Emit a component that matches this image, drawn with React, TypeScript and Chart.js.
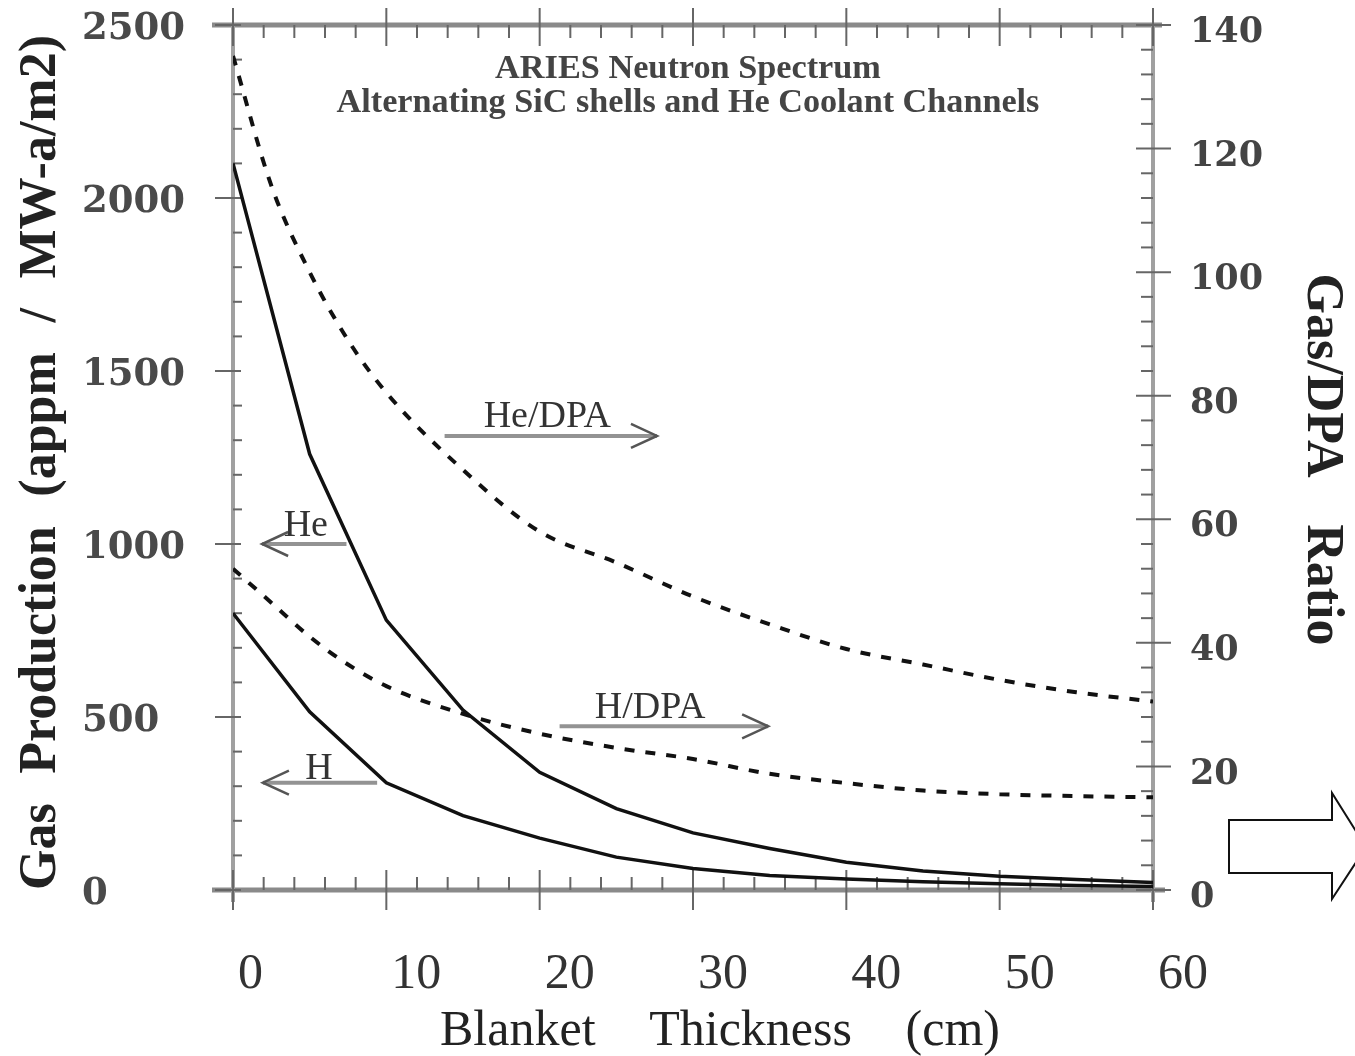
import React, { useEffect, useRef } from "react";
import { Chart, registerables } from "chart.js";

Chart.register(...registerables);

// ---- data ----
const PROD_X = [0, 5, 10, 15, 20, 25, 30, 35, 40, 45, 50, 55, 60];
const HE_PROD = [2100, 1260, 780, 520, 340, 235, 165, 120, 80, 55, 40, 30, 22];
const H_PROD = [800, 515, 310, 215, 150, 95, 62, 42, 32, 24, 18, 13, 10];

const RATIO_X = [0, 2.5, 5, 7.5, 10, 15, 20, 25, 30, 35, 40, 45, 50, 55, 60];
const HE_DPA = [135, 114, 100, 89, 80.5, 68, 58, 53, 47.5, 43, 39, 36.5, 34, 32, 30.5];
const H_DPA = [52, 46.5, 41, 36.5, 33, 28.5, 25.3, 23, 21.2, 18.8, 17.3, 16.1, 15.5, 15.2, 15];

const X_TICKS = [0, 10, 20, 30, 40, 50, 60];
const LEFT_TICKS = [0, 500, 1000, 1500, 2000, 2500];
const RIGHT_TICKS = [0, 20, 40, 60, 80, 100, 120, 140];

const X_MINOR = 2;
const LEFT_MINOR = 100;
const RIGHT_MINOR = 4;

const TITLE_LINES = ["ARIES Neutron Spectrum", "Alternating SiC shells and He Coolant Channels"];
const X_TITLE = ["Blanket", "Thickness", "(cm)"];
const LEFT_TITLE = ["Gas", "Production", "(appm", "/", "MW-a/m2)"];
const RIGHT_TITLE = ["Gas/DPA", "Ratio"];

const ANNOTATIONS = [
  { text: "He/DPA", axis: "y1", from: 13.8, to: 27.65, at: 73.5, labelAt: 20.5, lift: 9 },
  { text: "H/DPA", axis: "y1", from: 21.3, to: 34.9, at: 26.5, labelAt: 27.2, lift: 8 },
  { text: "He", axis: "y", from: 7.4, to: 1.9, at: 1000, labelAt: 4.75, lift: 8 },
  { text: "H", axis: "y", from: 9.4, to: 1.95, at: 310, labelAt: 5.6, lift: 4 },
];

const pts = (xs: number[], ys: number[]) => xs.map((x, i) => ({ x, y: ys[i] }));

function seg(ctx: CanvasRenderingContext2D, x1: number, y1: number, x2: number, y2: number) {
  ctx.beginPath();
  ctx.moveTo(x1, y1);
  ctx.lineTo(x2, y2);
  ctx.stroke();
}

function spreadWords(
  ctx: CanvasRenderingContext2D,
  words: string[],
  cx: number,
  baseY: number,
  target: number,
  font: string,
  angle: number
) {
  ctx.save();
  ctx.translate(cx, baseY);
  ctx.rotate(angle);
  ctx.font = font;
  ctx.textAlign = "left";
  ctx.textBaseline = "alphabetic";
  const widths = words.map((w) => ctx.measureText(w).width);
  const sum = widths.reduce((a, b) => a + b, 0);
  const gap = words.length > 1 ? (target - sum) / (words.length - 1) : 0;
  let x = words.length > 1 ? -target / 2 : -sum / 2;
  words.forEach((w, i) => {
    ctx.fillText(w, x, 0);
    x += widths[i] + gap;
  });
  ctx.restore();
}

function fitText(
  ctx: CanvasRenderingContext2D,
  text: string,
  cx: number,
  baseY: number,
  target: number,
  weight: string,
  family: string
) {
  ctx.font = `${weight} 100px ${family}`;
  const w = ctx.measureText(text).width;
  const size = (100 * target) / w;
  ctx.font = `${weight} ${size}px ${family}`;
  ctx.textAlign = "center";
  ctx.textBaseline = "alphabetic";
  ctx.fillText(text, cx, baseY);
}

const noPad = (s: any) => {
  s.paddingTop = 0;
  s.paddingBottom = 0;
  s.paddingLeft = 0;
  s.paddingRight = 0;
};

const decorPlugin = {
  id: "decor",
  beforeDatasetsDraw(chart: any) {
    const { ctx, chartArea: a, scales } = chart;
    const xs = scales.x;
    const yl = scales.y;
    const yr = scales.y1;
    ctx.save();
    ctx.lineCap = "butt";
    // frame lines
    ctx.strokeStyle = "#8a8a8a";
    ctx.lineWidth = 5;
    seg(ctx, a.left - 21, a.top, a.right + 9, a.top);
    seg(ctx, a.left - 21, a.bottom, a.right + 12, a.bottom);
    ctx.strokeStyle = "#a0a0a0";
    ctx.lineWidth = 4;
    seg(ctx, a.left, a.top, a.left, a.bottom + 12);
    seg(ctx, a.right, a.top, a.right, a.bottom + 12);

    ctx.strokeStyle = "#666";
    ctx.lineWidth = 2;
    // x ticks
    const xMin = xs.min, xMax = xs.max;
    const nx = Math.round((xMax - xMin) / X_MINOR);
    for (let i = 0; i <= nx; i++) {
      const v = xMin + i * X_MINOR;
      const p = xs.getPixelForValue(v);
      if (X_TICKS.includes(v)) {
        seg(ctx, p, a.top - 17, p, a.top + 21);
        seg(ctx, p, a.bottom - 20, p, a.bottom + 20);
      } else {
        seg(ctx, p, a.top, p, a.top + 13);
        seg(ctx, p, a.bottom - 13, p, a.bottom);
      }
    }
    // left ticks
    const nl = Math.round((yl.max - yl.min) / LEFT_MINOR);
    for (let i = 0; i <= nl; i++) {
      const v = yl.min + i * LEFT_MINOR;
      const p = yl.getPixelForValue(v);
      if (LEFT_TICKS.includes(v)) seg(ctx, a.left - 18, p, a.left + 8, p);
      else seg(ctx, a.left, p, a.left + 9, p);
    }
    // right ticks
    const nr = Math.round((yr.max - yr.min) / RIGHT_MINOR);
    for (let i = 0; i <= nr; i++) {
      const v = yr.min + i * RIGHT_MINOR;
      const p = yr.getPixelForValue(v);
      if (RIGHT_TICKS.includes(v)) seg(ctx, a.right - 17, p, a.right + 18, p);
      else seg(ctx, a.right - 12, p, a.right, p);
    }
    ctx.restore();
  },
  afterDraw(chart: any) {
    const { ctx, chartArea: a, scales } = chart;
    const xs = scales.x;
    ctx.save();

    // inner title
    ctx.fillStyle = "#444";
    const cxTitle = (a.left + a.right) / 2 - 5;
    fitText(ctx, TITLE_LINES[0], cxTitle, a.top + 53, 386, "bold", "'Liberation Serif', serif");
    fitText(ctx, TITLE_LINES[1], cxTitle, a.top + 87, 703, "bold", "'Liberation Serif', serif");

    // annotations with arrows
    ANNOTATIONS.forEach((an) => {
      const ys = scales[an.axis];
      const y = ys.getPixelForValue(an.at);
      const x1 = xs.getPixelForValue(an.from);
      const x2 = xs.getPixelForValue(an.to);
      ctx.strokeStyle = "#939393";
      ctx.lineWidth = 4;
      seg(ctx, x1, y, x2, y);
      const d = Math.sign(x2 - x1);
      ctx.strokeStyle = "#555";
      ctx.lineWidth = 2.5;
      ctx.beginPath();
      ctx.moveTo(x2 - d * 26, y - 12);
      ctx.lineTo(x2, y);
      ctx.lineTo(x2 - d * 26, y + 12);
      ctx.stroke();
      ctx.fillStyle = "#333";
      ctx.font = "38px 'Liberation Serif', serif";
      ctx.textAlign = "center";
      ctx.textBaseline = "alphabetic";
      ctx.fillText(an.text, xs.getPixelForValue(an.labelAt), y - an.lift);
    });

    // axis titles
    ctx.fillStyle = "#222";
    spreadWords(ctx, X_TITLE, (a.left + a.right) / 2 + 27, chart.height - 11, 560, "50px 'Liberation Serif', serif", 0);
    spreadWords(ctx, LEFT_TITLE, 55, (a.top + a.bottom) / 2 + 5, 855, "bold 52px 'Liberation Serif', serif", -Math.PI / 2);
    spreadWords(ctx, RIGHT_TITLE, a.right + 155, (a.top + a.bottom) / 2 + 2, 372, "bold 52px 'Liberation Serif', serif", Math.PI / 2);

    // block arrow at the right edge
    const bx = a.right;
    const by = a.bottom;
    ctx.beginPath();
    ctx.moveTo(bx + 76, by - 70);
    ctx.lineTo(bx + 179, by - 70);
    ctx.lineTo(bx + 179, by - 97);
    ctx.lineTo(bx + 213, by - 43);
    ctx.lineTo(bx + 179, by + 9);
    ctx.lineTo(bx + 179, by - 17);
    ctx.lineTo(bx + 76, by - 17);
    ctx.closePath();
    ctx.fillStyle = "#fff";
    ctx.fill();
    ctx.strokeStyle = "#111";
    ctx.lineWidth = 2;
    ctx.stroke();

    ctx.restore();
  },
};

export default function App() {
  const ref = useRef<HTMLCanvasElement | null>(null);

  useEffect(() => {
    document.body.style.margin = "0";
    const canvas = ref.current;
    if (!canvas) return;
    const chart = new Chart(canvas, {
      type: "line",
      data: {
        datasets: [
          {
            label: "He",
            data: pts(PROD_X, HE_PROD),
            yAxisID: "y",
            borderColor: "#111",
            borderWidth: 3.5,
            pointRadius: 0,
            tension: 0,
          },
          {
            label: "H",
            data: pts(PROD_X, H_PROD),
            yAxisID: "y",
            borderColor: "#111",
            borderWidth: 3.5,
            pointRadius: 0,
            tension: 0,
          },
          {
            label: "He/DPA",
            data: pts(RATIO_X, HE_DPA),
            yAxisID: "y1",
            borderColor: "#111",
            borderWidth: 4,
            borderDash: [10, 11],
            pointRadius: 0,
            cubicInterpolationMode: "monotone",
          },
          {
            label: "H/DPA",
            data: pts(RATIO_X, H_DPA),
            yAxisID: "y1",
            borderColor: "#111",
            borderWidth: 4,
            borderDash: [10, 11],
            pointRadius: 0,
            cubicInterpolationMode: "monotone",
          },
        ],
      },
      options: {
        animation: false,
        responsive: false,
        devicePixelRatio: 1,
        layout: { padding: { left: 82, top: 25, right: 0, bottom: 0 } },
        plugins: { legend: { display: false }, tooltip: { enabled: false }, title: { display: false } },
        scales: {
          x: {
            type: "linear",
            position: "bottom",
            min: 0,
            max: 60,
            grid: { display: false, drawTicks: false },
            border: { display: false },
            afterBuildTicks: (s: any) => {
              s.ticks = X_TICKS.map((v) => ({ value: v }));
            },
            afterFit: (s: any) => {
              s.height = 166;
              noPad(s);
            },
            ticks: {
              align: "start",
              labelOffset: 5,
              padding: 55,
              autoSkip: false,
              maxRotation: 0,
              minRotation: 0,
              color: "#333",
              callback: (v: any) => String(v),
              font: { family: "'Liberation Serif', serif", size: 50 },
            },
          },
          y: {
            type: "linear",
            position: "left",
            min: 0,
            max: 2500,
            grid: { display: false, drawTicks: false },
            border: { display: false },
            afterBuildTicks: (s: any) => {
              s.ticks = LEFT_TICKS.map((v) => ({ value: v }));
            },
            afterFit: (s: any) => {
              s.width = 151;
              noPad(s);
            },
            ticks: {
              crossAlign: "far",
              labelOffset: 4,
              color: "#4a4a4a",
              callback: (v: any) => String(v),
              font: { family: "'DejaVu Serif', serif", size: 37, weight: "bold" },
            },
          },
          y1: {
            type: "linear",
            position: "right",
            min: 0,
            max: 140,
            grid: { display: false, drawTicks: false },
            border: { display: false },
            afterBuildTicks: (s: any) => {
              s.ticks = RIGHT_TICKS.map((v) => ({ value: v }));
            },
            afterFit: (s: any) => {
              s.width = 202;
              noPad(s);
            },
            ticks: {
              crossAlign: "near",
              padding: 37,
              labelOffset: 8,
              color: "#444",
              callback: (v: any) => String(v),
              font: { family: "'DejaVu Serif', serif", size: 35, weight: "bold" },
            },
          },
        },
      },
      plugins: [decorPlugin],
    } as any);
    return () => chart.destroy();
  }, []);

  return <canvas ref={ref} width={1355} height={1056} style={{ display: "block" }} />;
}
